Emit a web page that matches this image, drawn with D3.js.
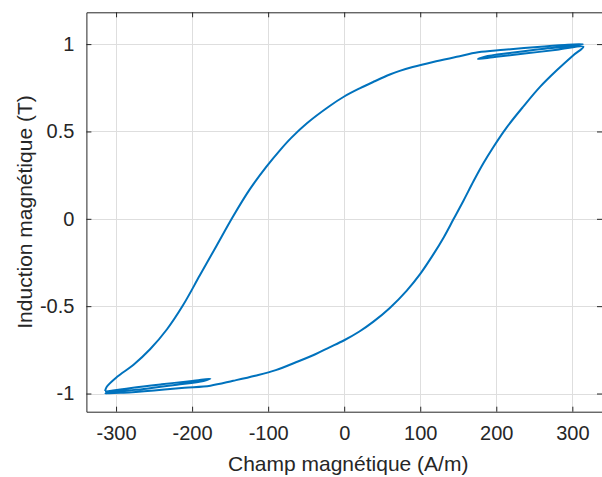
<!DOCTYPE html>
<html><head><meta charset="utf-8">
<script src="https://cdn.jsdelivr.net/npm/d3@7"></script>
<style>
html,body{margin:0;padding:0;background:#fff;}
svg{display:block;font-family:"Liberation Sans",Arial,Helvetica,sans-serif;}
</style></head>
<body>
<svg id="chart" width="602" height="477"></svg>
<script>
// Champ magnétique H (A/m) along the measured path
const fieldH = [
  -314.5,-280,-240,-200,-176,-185,-220,-260,-300,-314,-290,-250,-210,-176,
  -146,-117,-90,-60,-38,-20,0,20,38,60,82,100,117,131,144,157,170,183,196,214,236,257.5,279.5,301,314.5,
  280,240,200,176,185,220,260,300,314,290,250,210,176,
  148,117,90,73,60,38,21,0,-20,-49,-70,-84,-102,-124,-146,-168,-190,-212,-233,-255,-277,-299,-312,-314.5
];
// Induction magnétique B (T) along the same path
const inductionB = [
  -0.99,-0.968,-0.947,-0.928,-0.915,-0.928,-0.95,-0.972,-0.99,-1.0,-0.995,-0.982,-0.967,-0.955,
  -0.927,-0.898,-0.866,-0.815,-0.775,-0.737,-0.695,-0.645,-0.59,-0.51,-0.412,-0.315,-0.205,-0.105,0.0,0.105,0.215,0.318,0.41,0.525,0.645,0.755,0.85,0.935,0.985,
  0.968,0.947,0.928,0.915,0.928,0.95,0.972,0.99,1.0,0.995,0.982,0.967,0.953,
  0.927,0.898,0.869,0.847,0.826,0.783,0.748,0.70,0.643,0.547,0.462,0.395,0.30,0.17,0.015,-0.155,-0.325,-0.495,-0.632,-0.745,-0.835,-0.906,-0.96,-0.985
];
const xTicks = [-300,-200,-100,0,100,200,300];
const yTicks = [-1,-0.5,0,0.5,1];
const xDomain = [-339, 339];
const yDomain = [-1.104, 1.182];
const xLabel = "Champ magnétique (A/m)";
const yLabel = "Induction magnétique (T)";

(function(){
const svg = d3.select("#chart");
const pL = 86.4, pR = 602, pT = 12.3, pB = 411.7;
const x = d3.scaleLinear().domain(xDomain).range([pL, pR]);
const y = d3.scaleLinear().domain(yDomain).range([pB, pT]);
const axisColor = "#262626";

// grid
svg.append("g").selectAll("line").data(xTicks).join("line")
  .attr("x1", d => Math.round(x(d)) + 0.5).attr("x2", d => Math.round(x(d)) + 0.5)
  .attr("y1", pT).attr("y2", pB)
  .attr("stroke", "#dedede").attr("stroke-width", 1);
svg.append("g").selectAll("line").data(yTicks).join("line")
  .attr("y1", d => Math.round(y(d)) + 0.5).attr("y2", d => Math.round(y(d)) + 0.5)
  .attr("x1", pL).attr("x2", pR)
  .attr("stroke", "#dedede").attr("stroke-width", 1);

// data line
const pts = fieldH.map((h, i) => [h, inductionB[i]]);
const line = d3.line().x(d => x(d[0])).y(d => y(d[1])).curve(d3.curveCatmullRom.alpha(0.5));
svg.append("path").attr("d", line(pts))
  .attr("fill", "none").attr("stroke", "#0072BD").attr("stroke-width", 2)
  .attr("stroke-linejoin", "round");

// axes
const fmt = d => String(d);
const xAxisB = d3.axisBottom(x).tickValues(xTicks).tickSizeInner(-5).tickSizeOuter(0).tickPadding(14).tickFormat(fmt);
const xAxisT = d3.axisTop(x).tickValues(xTicks).tickSizeInner(-5).tickSizeOuter(0).tickFormat("");
const yAxisL = d3.axisLeft(y).tickValues(yTicks).tickSizeInner(-5).tickSizeOuter(0).tickPadding(12).tickFormat(fmt);
const yAxisR = d3.axisRight(y).tickValues(yTicks).tickSizeInner(-5).tickSizeOuter(0).tickFormat("");

function style(g){
  g.select(".domain").attr("stroke", axisColor);
  g.selectAll(".tick line").attr("stroke", axisColor);
  g.selectAll(".tick text").attr("fill", axisColor).style("font-size", "20px")
   .style("font-family", '"Liberation Sans",Arial,sans-serif');
}
svg.append("g").attr("transform", `translate(0,${pB})`).call(xAxisB).call(style);
svg.append("g").attr("transform", `translate(0,${pT})`).call(xAxisT).call(style);
svg.append("g").attr("transform", `translate(${pL},0)`).call(yAxisL).call(style);
svg.append("g").attr("transform", `translate(${pR},0)`).call(yAxisR).call(style);

// labels
svg.append("text").attr("x", (pL + pR) / 2 + 4).attr("y", 471)
  .attr("text-anchor", "middle").attr("fill", axisColor).style("font-size", "21px").text(xLabel);
svg.append("text").attr("transform", `translate(32,${(pT + pB) / 2}) rotate(-90)`)
  .attr("text-anchor", "middle").attr("fill", axisColor).style("font-size", "21px").text(yLabel);
})();
</script>
</body></html>
